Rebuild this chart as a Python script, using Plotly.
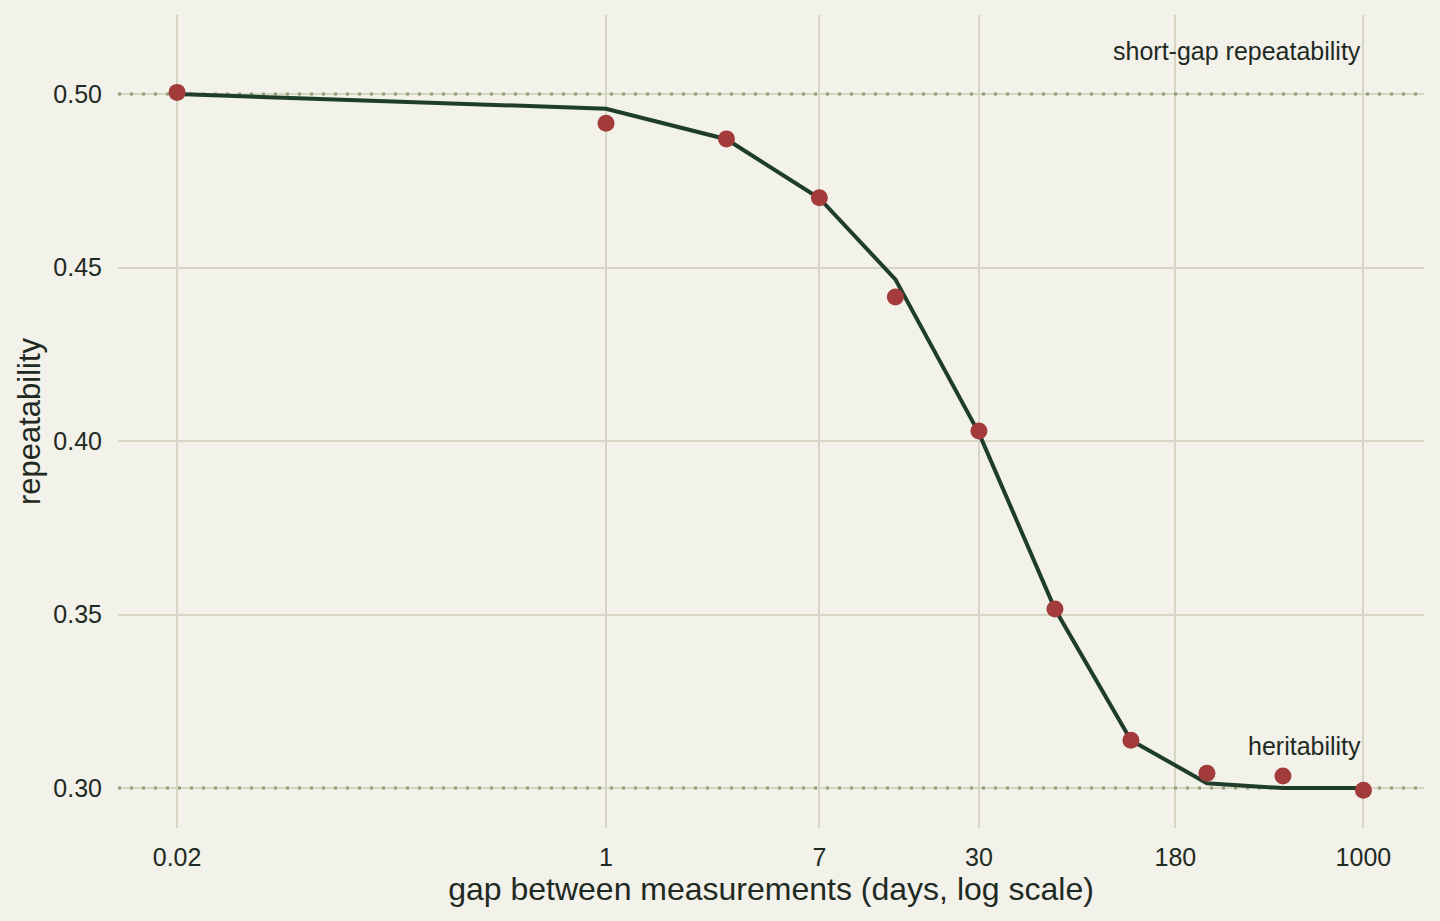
import numpy as np
import plotly.graph_objects as go

# gap between measurements, in days
gap_days = [0.02, 1, 3, 7, 14, 30, 60, 120, 240, 480, 1000]
# observed repeatability at each gap
observed = [0.5005, 0.4916, 0.4871, 0.4701, 0.4415, 0.4029, 0.3516, 0.3138, 0.3043, 0.3035, 0.2994]
# fitted curve
fitted = [0.5000, 0.4958, 0.4870, 0.4700, 0.4466, 0.4023, 0.3516, 0.3138, 0.3014, 0.3000, 0.3000]

short_gap_level = 0.50
heritability_level = 0.30

x_ticks = [0.02, 1, 7, 30, 180, 1000]
x_ticktext = ["0.02", "1", "7", "30", "180", "1000"]
y_ticks = [0.30, 0.35, 0.40, 0.45, 0.50]

bg = "#f2f1ea"
grid = "#d6d5c4"
text_col = "#1f2a22"
font_family = "Liberation Sans, Arial, sans-serif"

x_range = [np.log10(min(gap_days)) - 0.234, np.log10(max(gap_days)) + 0.24]

fig = go.Figure()

# reference levels: drawn first so they sit over the grid but under the data
for lvl in (short_gap_level, heritability_level):
    fig.add_trace(go.Scatter(
        x=[10 ** x_range[0], 10 ** x_range[1]], y=[lvl, lvl], mode="lines",
        line=dict(color="#8a9f72", width=3, dash="3px,9px"),
        hoverinfo="skip", showlegend=False,
    ))

fig.add_trace(go.Scatter(
    x=gap_days, y=fitted, mode="lines",
    line=dict(color="#1f3d2b", width=4),
    hoverinfo="skip", showlegend=False,
))
fig.add_trace(go.Scatter(
    x=gap_days, y=observed, mode="markers",
    marker=dict(color="#a33b3b", size=17),
    showlegend=False,
))

fig.add_annotation(x=np.log10(1000), y=short_gap_level, xref="x", yref="y",
                   text="short-gap repeatability", showarrow=False,
                   xanchor="right", yanchor="bottom", yshift=27,
                   font=dict(size=25, color=text_col))
fig.add_annotation(x=np.log10(1000), y=heritability_level, xref="x", yref="y",
                   text="heritability", showarrow=False,
                   xanchor="right", yanchor="bottom", yshift=26,
                   font=dict(size=25, color=text_col))

fig.update_layout(
    width=1440, height=921,
    paper_bgcolor=bg, plot_bgcolor=bg,
    font=dict(family=font_family, color=text_col, size=25),
    margin=dict(l=118, r=16, t=15, b=93),
)

fig.update_xaxes(
    type="log",
    range=x_range,
    tickvals=x_ticks, ticktext=x_ticktext,
    showgrid=True, gridcolor=grid, gridwidth=2,
    zeroline=False, showline=False, ticks="",
    ticklabelstandoff=12,
    title=dict(text="gap between measurements (days, log scale)", font=dict(size=32), standoff=2),
)
fig.update_yaxes(
    range=[0.2885, 0.5228],
    tickvals=y_ticks, tickformat=".2f",
    showgrid=True, gridcolor=grid, gridwidth=2,
    zeroline=False, showline=False, ticks="",
    ticklabelstandoff=15,
    title=dict(text="repeatability", font=dict(size=31), standoff=3),
)

fig.write_html("out.html", config={"displayModeBar": False},
               post_script="document.body.style.margin='0';")
